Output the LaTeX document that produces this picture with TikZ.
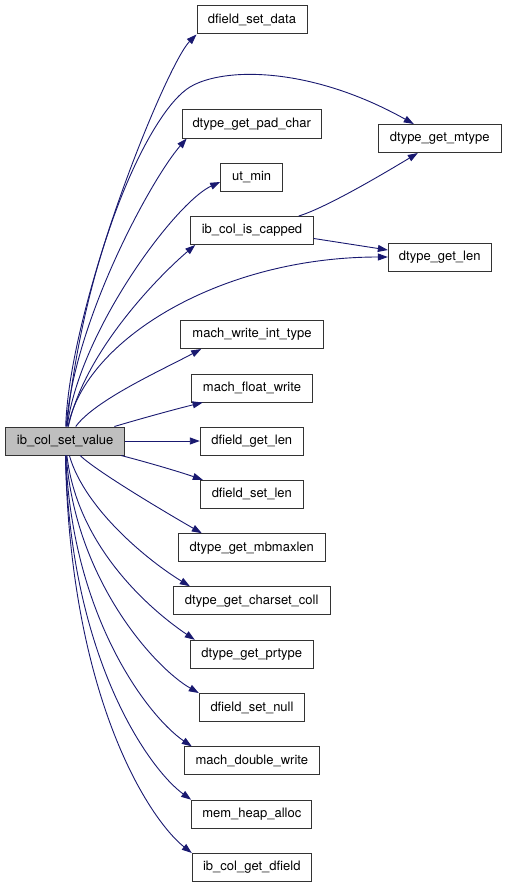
\documentclass[tikz,border=0pt]{standalone}
\usepackage{fontspec}
\setmainfont{TeX Gyre Heros}
\usetikzlibrary{arrows.meta}
\definecolor{edgeblue}{HTML}{191970}
\definecolor{mainfill}{HTML}{BFBFBF}
\definecolor{boxline}{HTML}{333333}
\begin{document}
\begin{tikzpicture}[x=1pt,y=-1pt,
  fbox/.style={draw=boxline,line width=1pt,fill=white,minimum height=28pt,inner sep=0pt,
    font=\fontsize{13}{15}\selectfont},
  calls/.style={draw=edgeblue,line width=0.9pt,-{Triangle[length=10pt,width=7pt]},fill=none}]
\useasboundingbox (0,0) rectangle (507,888);
% nodes
\node[fbox,fill=mainfill,minimum width=119pt] (main) at (65.2,441) {ib\_col\_set\_value};
\node[fbox,minimum width=110pt] (dsd) at (252,20) {dfield\_set\_data};
\node[fbox,minimum width=139pt] (pc) at (251.7,124) {dtype\_get\_pad\_char};
\node[fbox,minimum width=122.7pt] (mt) at (439.7,138.5) {dtype\_get\_mtype};
\node[fbox,minimum width=62pt] (ut) at (251.7,177) {ut\_min};
\node[fbox,minimum width=122.6pt] (cap) at (252,230.5) {ib\_col\_is\_capped};
\node[fbox,minimum width=102.7pt] (len) at (439.7,257) {dtype\_get\_len};
\node[fbox,minimum width=142.6pt] (mwit) at (252,334.5) {mach\_write\_int\_type};
\node[fbox,minimum width=121.7pt] (mfw) at (252,388) {mach\_float\_write};
\node[fbox,minimum width=103pt] (dgl) at (251.8,441) {dfield\_get\_len};
\node[fbox,minimum width=103pt] (dsl) at (251.8,494.3) {dfield\_set\_len};
\node[fbox,minimum width=147pt] (mbm) at (251.8,547.7) {dtype\_get\_mbmaxlen};
\node[fbox,minimum width=156.7pt] (cs) at (251.7,600.7) {dtype\_get\_charset\_coll};
\node[fbox,minimum width=123pt] (prt) at (251.8,654.3) {dtype\_get\_prtype};
\node[fbox,minimum width=105.4pt] (null) at (252,707.5) {dfield\_set\_null};
\node[fbox,minimum width=135pt] (mdw) at (251.8,760.9) {mach\_double\_write};
\node[fbox,minimum width=120.3pt] (mha) at (251.8,814.2) {mem\_heap\_alloc};
\node[fbox,minimum width=119pt] (gdf) at (251.8,867.5) {ib\_col\_get\_dfield};
\coordinate (bend) at (190,87);
% edges
\draw[calls] (main) .. controls (70,300) and (167,64) .. (dsd.south west);
\draw[calls] (main) .. controls (85,250) and (150,111) .. (bend) .. controls (223,67) and (310,66) .. (mt);
\draw[calls] (main) .. controls (74,320) and (152,178) .. ([xshift=5pt]pc.south west);
\draw[calls] (main) .. controls (80,330) and (176,202) .. ([yshift=-5pt]ut.west);
\draw[calls] (main) .. controls (85,350) and (161,274) .. ([xshift=5pt]cap.south west);
\draw[calls] (main) .. controls (85,340) and (220,257) .. (len.west);
\draw[calls] (main) .. controls (95,400) and (162,370) .. ([xshift=21pt]mwit.south west);
\draw[calls] (main) .. controls (150,416) and (180,408) .. ([xshift=12pt]mfw.south west);
\draw[calls] (main) -- (dgl);
\draw[calls] (main) .. controls (150,463) and (180,472) .. ([xshift=3pt]dsl.north west);
\draw[calls] (main) .. controls (95,470) and (158,508) .. ([xshift=24pt]mbm.north west);
\draw[calls] (main) .. controls (85,510) and (150,562) .. ([xshift=17pt]cs.north west);
\draw[calls] (main) .. controls (78,550) and (155,613) .. ([xshift=5pt]prt.north west);
\draw[calls] (main) .. controls (75,580) and (155,668) .. (null.north west);
\draw[calls] (main) .. controls (72,620) and (150,718) .. ([xshift=8pt]mdw.north west);
\draw[calls] (main) .. controls (70,660) and (150,770) .. (mha.north west);
\draw[calls] (main) .. controls (70,700) and (150,820) .. (gdf.north west);
\draw[calls] ([xshift=-15pt]cap.north east) .. controls (325,208) and (378,177) .. ([xshift=40pt]mt.south west);
\draw[calls] ([yshift=-8pt]cap.east) -- ([yshift=7pt]len.west);
\end{tikzpicture}
\end{document}
